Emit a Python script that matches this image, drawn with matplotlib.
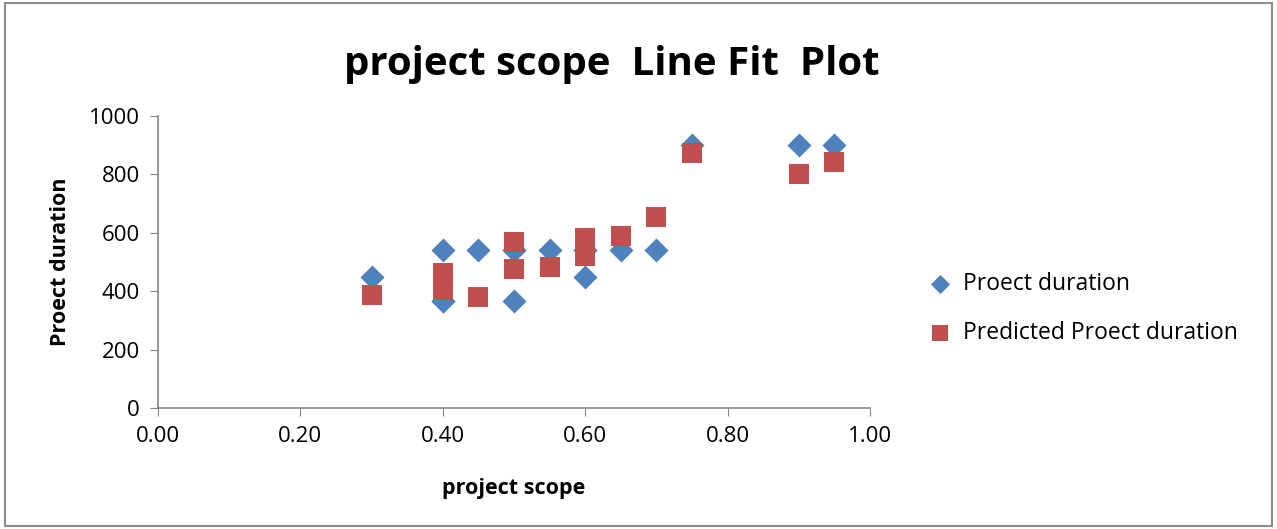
import matplotlib
matplotlib.use('Agg')
import matplotlib.pyplot as plt
from matplotlib.patches import Rectangle

plt.rcParams['font.family'] = ['Open Sans', 'DejaVu Sans']

# project scope vs. actual and predicted duration
scope = [0.30, 0.40, 0.40, 0.40, 0.45, 0.50, 0.50, 0.50, 0.55, 0.60, 0.60, 0.60,
         0.65, 0.70, 0.75, 0.90, 0.95]
duration = [450, 540, 365, 365, 540, 540, 365, 540, 540, 450, 540, 540,
            540, 540, 900, 900, 900]
predicted = [388, 462, 405, 440, 380, 568, 476, 568, 484, 582, 550, 522,
             589, 655, 873, 803, 842]

xticks = [0.0, 0.2, 0.4, 0.6, 0.8, 1.0]
yticks = [0, 200, 400, 600, 800, 1000]

blue = '#4F81BD'
red = '#C0504D'
grey = '#868686'

fig = plt.figure(figsize=(12.77, 5.29), dpi=100)
ax = fig.add_axes([158 / 1277, 1 - 408 / 529, (870 - 158) / 1277, (408 - 116) / 529])

ax.scatter(scope, duration, marker='D', s=150, color=blue, linewidths=0,
           label='Proect duration', zorder=3)
ax.scatter(scope, predicted, marker='s', s=200, color=red, linewidths=0,
           label='Predicted Proect duration', zorder=4)

ax.set_xlim(0, 1)
ax.set_ylim(0, 1000)
ax.set_xticks(xticks)
ax.set_xticklabels([f'{t:.2f}' for t in xticks], fontsize=16)
ax.set_yticks(yticks)
ax.set_yticklabels([str(t) for t in yticks], fontsize=16)
ax.tick_params(direction='out', length=6, color=grey, pad=7)
for side in ('top', 'right'):
    ax.spines[side].set_visible(False)
for side in ('left', 'bottom'):
    ax.spines[side].set_color(grey)
    ax.spines[side].set_linewidth(1.2)

ax.set_xlabel('project scope', fontsize=15.5, fontweight='bold', labelpad=22)
ax.set_ylabel('Proect duration', fontsize=15.5, fontweight='bold', labelpad=13)
fig.text(612 / 1277, 1 - 65 / 529, 'project scope  Line Fit  Plot', ha='center',
         va='center', fontsize=29, fontweight='bold')

ax.legend(loc='center left', bbox_to_anchor=(1.037, 0.34), frameon=False,
          fontsize=16.5, handletextpad=0.0, labelspacing=1.1, markerscale=0.8)

# outer chart border
fig.patches.append(Rectangle((0.004, 0.006), 0.992, 0.988, transform=fig.transFigure,
                             fill=False, edgecolor='#8C8C8C', linewidth=1.5))

fig.savefig('out.png', dpi=100)
